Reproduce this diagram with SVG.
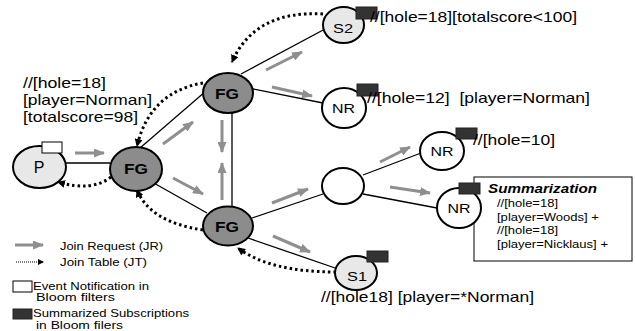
<svg xmlns="http://www.w3.org/2000/svg" width="635" height="331" viewBox="0 0 635 331">
<defs>
<marker id="ga" markerUnits="userSpaceOnUse" markerWidth="11" markerHeight="9" refX="10" refY="4.5" orient="auto"><path d="M0,0 L11,4.5 L0,9 z" fill="#8f8f8f"/></marker>
<marker id="ba" markerUnits="userSpaceOnUse" markerWidth="8" markerHeight="8" refX="7" refY="4" orient="auto"><path d="M0,0 L8,4 L0,8 z" fill="#000"/></marker>
<marker id="bs" markerUnits="userSpaceOnUse" markerWidth="6" markerHeight="6" refX="5" refY="3" orient="auto"><path d="M0,0 L6,3 L0,6 z" fill="#000"/></marker>
</defs>
<style>
text{font-family:"Liberation Sans",Arial,sans-serif;fill:#000}
.n{stroke:#000;stroke-width:2}
.lt{fill:#e8e8e8}
.fg{fill:#8c8c8c}
.wh{fill:#fff}
.ln{stroke:#000;stroke-width:1.3;fill:none}
.jr{stroke:#8f8f8f;stroke-width:3;fill:none;marker-end:url(#ga)}
.jt{stroke:#000;stroke-width:3;stroke-dasharray:2.5 3;fill:none;marker-end:url(#ba)}
.bf{fill:#fff;stroke:#000;stroke-width:1}
.ss{fill:#333;stroke:#222;stroke-width:1}
.lb{font-size:15px}
.nl{font-size:13px;text-anchor:middle}
.pl{font-size:16px;text-anchor:middle}
.fgl{font-size:15px;font-weight:bold;text-anchor:middle}
.sm{font-size:11.5px}
.lg{font-size:11px}
</style>
<rect width="635" height="331" fill="#fff"/>

<g id="connectors">
  <line class="ln" x1="66" y1="163" x2="110" y2="163"/>
  <line class="ln" x1="140" y1="148" x2="206" y2="91"/>
  <line class="ln" x1="152" y1="182" x2="207" y2="213"/>
  <line class="ln" x1="232" y1="112" x2="232" y2="207"/>
  <line class="ln" x1="241" y1="74" x2="325" y2="29"/>
  <line class="ln" x1="253" y1="89" x2="323" y2="103"/>
  <line class="ln" x1="252" y1="218" x2="323" y2="194"/>
  <line class="ln" x1="248" y1="238" x2="338" y2="269"/>
  <line class="ln" x1="363" y1="175" x2="421" y2="153"/>
  <line class="ln" x1="363" y1="194" x2="437" y2="208"/>

  <line class="jr" x1="75" y1="153" x2="104" y2="153"/>
  <line class="jr" x1="163" y1="144" x2="193" y2="122"/>
  <line class="jr" x1="173" y1="178" x2="203" y2="194"/>
  <line class="jr" x1="222" y1="120" x2="222" y2="152"/>
  <line class="jr" x1="222" y1="200" x2="222" y2="163"/>
  <line class="jr" x1="266" y1="70" x2="302" y2="52"/>
  <line class="jr" x1="272" y1="87" x2="312" y2="96"/>
  <line class="jr" x1="272" y1="203" x2="308" y2="189"/>
  <line class="jr" x1="273" y1="236" x2="310" y2="252"/>
  <line class="jr" x1="380" y1="162" x2="410" y2="147"/>
  <line class="jr" x1="390" y1="187" x2="430" y2="193"/>

  <path class="jt" d="M323,14 Q255,10 232,62"/>
  <path class="jt" d="M203,83 Q150,92 137,146"/>
  <path class="jt" d="M111,177 Q92,192 58,182"/>
  <path class="jt" d="M203,230 Q150,222 137,190"/>
  <path class="jt" d="M336,272 Q270,272 238,248"/>
</g>

<g id="node-P">
  <ellipse class="n lt" cx="39.5" cy="167" rx="26.5" ry="21"/>
  <rect class="bf" x="42" y="142" width="20" height="11"/>
  <text class="pl" x="39" y="173">P</text>
</g>
<g id="node-FG1">
  <ellipse class="n fg" cx="136" cy="169" rx="26" ry="22"/>
  <text class="fgl" x="136" y="174" textLength="24" lengthAdjust="spacingAndGlyphs">FG</text>
</g>
<g id="node-FG2">
  <ellipse class="n fg" cx="228" cy="93" rx="25" ry="20"/>
  <text class="fgl" x="227" y="99" textLength="24" lengthAdjust="spacingAndGlyphs">FG</text>
</g>
<g id="node-FG3">
  <ellipse class="n fg" cx="228" cy="226" rx="25" ry="19.5"/>
  <text class="fgl" x="227" y="232" textLength="24" lengthAdjust="spacingAndGlyphs">FG</text>
</g>
<g id="node-S2">
  <ellipse class="n lt" cx="343.5" cy="25" rx="20.5" ry="18"/>
  <rect class="ss" x="356" y="7" width="21" height="12"/>
  <text class="nl" x="343" y="33" textLength="20" lengthAdjust="spacingAndGlyphs">S2</text>
</g>
<g id="node-NR1">
  <ellipse class="n wh" cx="344" cy="108" rx="22" ry="20"/>
  <rect class="ss" x="357" y="84" width="21" height="12"/>
  <text class="nl" x="343.5" y="113" textLength="23" lengthAdjust="spacingAndGlyphs">NR</text>
</g>
<g id="node-NR2">
  <ellipse class="n wh" cx="442" cy="151" rx="22" ry="19"/>
  <rect class="ss" x="456" y="128" width="21" height="11"/>
  <text class="nl" x="442" y="156" textLength="23" lengthAdjust="spacingAndGlyphs">NR</text>
</g>
<g id="node-E">
  <ellipse class="n wh" cx="343" cy="186" rx="21" ry="18"/>
</g>
<g id="node-summary">
  <rect class="bf" x="474" y="177" width="158" height="84"/>
  <text x="488" y="193" font-size="13" font-weight="bold" font-style="italic" textLength="109" lengthAdjust="spacingAndGlyphs">Summarization</text>
  <text class="sm" x="497" y="207" textLength="61" lengthAdjust="spacingAndGlyphs">//[hole=18]</text>
  <text class="sm" x="497" y="220.5" textLength="102" lengthAdjust="spacingAndGlyphs">[player=Woods] +</text>
  <text class="sm" x="497" y="234" textLength="61" lengthAdjust="spacingAndGlyphs">//[hole=18]</text>
  <text class="sm" x="497" y="247.5" textLength="111" lengthAdjust="spacingAndGlyphs">[player=Nicklaus] +</text>
</g>
<g id="node-NR3">
  <ellipse class="n wh" cx="459" cy="208" rx="22" ry="20"/>
  <rect class="ss" x="459" y="183" width="21" height="11"/>
  <text class="nl" x="459" y="213" textLength="23" lengthAdjust="spacingAndGlyphs">NR</text>
</g>
<g id="node-S1">
  <ellipse class="n lt" cx="356" cy="273" rx="21" ry="17"/>
  <rect class="ss" x="367" y="251" width="21" height="11"/>
  <text class="nl" x="357" y="281" textLength="20" lengthAdjust="spacingAndGlyphs">S1</text>
</g>

<g id="labels">
  <text class="lb" x="23" y="88" textLength="83" lengthAdjust="spacingAndGlyphs">//[hole=18]</text>
  <text class="lb" x="23" y="105" textLength="129" lengthAdjust="spacingAndGlyphs">[player=Norman]</text>
  <text class="lb" x="23" y="121.5" textLength="115" lengthAdjust="spacingAndGlyphs">[totalscore=98]</text>
  <text class="lb" x="370" y="22" textLength="207" lengthAdjust="spacingAndGlyphs">//[hole=18][totalscore&lt;100]</text>
  <text class="lb" x="367" y="103" textLength="223" lengthAdjust="spacingAndGlyphs" xml:space="preserve">//[hole=12]  [player=Norman]</text>
  <text class="lb" x="473" y="145" textLength="82" lengthAdjust="spacingAndGlyphs">//[hole=10]</text>
  <text class="lb" x="321" y="302" textLength="213" lengthAdjust="spacingAndGlyphs">//[hole18] [player=*Norman]</text>
</g>

<g id="legend">
  <line class="jr" x1="15" y1="245" x2="43" y2="245"/>
  <text class="lg" x="60" y="250" textLength="103" lengthAdjust="spacingAndGlyphs">Join Request (JR)</text>
  <line x1="16" y1="262" x2="43" y2="262" stroke="#000" stroke-width="1.2" stroke-dasharray="1 1" marker-end="url(#bs)"/>
  <text class="lg" x="60" y="266" textLength="87" lengthAdjust="spacingAndGlyphs">Join Table (JT)</text>
  <rect class="bf" x="13" y="281" width="19" height="11"/>
  <text class="lg" x="33" y="290" textLength="116" lengthAdjust="spacingAndGlyphs">Event Notification in</text>
  <text class="lg" x="36" y="301" textLength="79" lengthAdjust="spacingAndGlyphs">Bloom filters</text>
  <rect class="ss" x="13" y="309" width="19" height="10"/>
  <text class="lg" x="33" y="316.5" textLength="156" lengthAdjust="spacingAndGlyphs">Summarized Subscriptions</text>
  <text class="lg" x="36" y="329" textLength="87" lengthAdjust="spacingAndGlyphs">in Bloom filers</text>
</g>
</svg>
